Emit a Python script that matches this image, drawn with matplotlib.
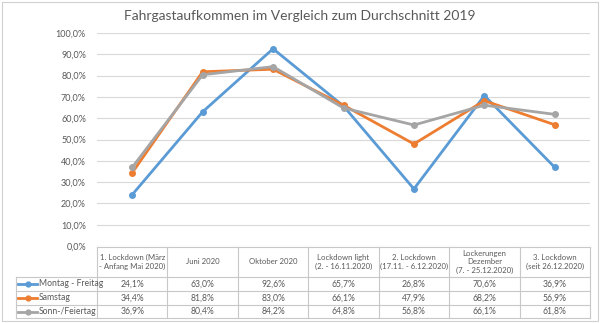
import matplotlib.pyplot as plt
from matplotlib.patches import Rectangle

plt.rcParams['font.family'] = ['Lato', 'DejaVu Sans']

categories = ['1. Lockdown (März\n- Anfang Mai 2020)', 'Juni 2020', 'Oktober 2020',
              'Lockdown light\n(2. - 16.11.2020)', '2. Lockdown\n(17.11. - 6.12.2020)',
              'Lockerungen\nDezember\n(7. - 25.12.2020)', '3. Lockdown\n(seit 26.12.2020)']
series_names = ['Montag - Freitag', 'Samstag', 'Sonn-/Feiertag']
montag_freitag = [24.1, 63.0, 92.6, 65.7, 26.8, 70.6, 36.9]
samstag = [34.4, 81.8, 83.0, 66.1, 47.9, 68.2, 56.9]
sonn_feiertag = [36.9, 80.4, 84.2, 64.8, 56.8, 66.1, 61.8]
colors = ['#5b9bd5', '#ed7d31', '#a5a5a5']
yticks = [0, 10, 20, 30, 40, 50, 60, 70, 80, 90, 100]

series = [montag_freitag, samstag, sonn_feiertag]
W, H = 600, 323
text_col = '#595959'
grid_col = '#d9d9d9'


def pct(v):
    return f'{v:.1f}%'.replace('.', ',')


fig = plt.figure(figsize=(W / 100, H / 100), dpi=100)
fig.patches.append(Rectangle((2 / W, 2 / H), 1 - 4 / W, 1 - 4 / H, transform=fig.transFigure,
                             fill=False, edgecolor='#d0d0d0', lw=0.8))

# main plot area
left, right, top, bottom = 97, 590, 33, 246
ax = fig.add_axes([left / W, 1 - bottom / H, (right - left) / W, (bottom - top) / H])
ax.set_xlim(-0.5, len(categories) - 0.5)
ax.set_ylim(0, 100)
ax.set_yticks(yticks)
ax.set_yticklabels([pct(t) for t in yticks], color=text_col, fontsize=6.5)
ax.tick_params(axis='y', length=0, pad=8)
ax.set_xticks([])
ax.grid(axis='y', color=grid_col, lw=0.8)
ax.set_axisbelow(True)
for s in ax.spines.values():
    s.set_visible(False)

x = range(len(categories))
for vals, c in zip(series, colors):
    ax.plot(x, vals, color=c, lw=2, marker='o', markersize=4, clip_on=False)

fig.text(0.5, 1 - 16 / H, 'Fahrgastaufkommen im Vergleich zum Durchschnitt 2019',
         ha='center', va='center', fontsize=10, color=text_col)

# data table below the plot
t_top, t_bot = 247, 318
row_edges = [247, 277, 291, 305, 318]
leg_left = -0.5 - (left - 16) / ((right - left) / len(categories))
tab = fig.add_axes([left / W, 1 - t_bot / H, (right - left) / W, (t_bot - t_top) / H])
tab.set_xlim(-0.5, len(categories) - 0.5)
tab.set_ylim(t_bot, t_top)
tab.axis('off')

lc = '#c8c8c8'
kw = dict(color=lc, lw=0.8, clip_on=False)
tab.plot([-0.5, len(categories) - 0.5], [row_edges[0]] * 2, **kw)
for y in row_edges[1:]:
    tab.plot([leg_left, len(categories) - 0.5], [y, y], **kw)
for i in range(len(categories) + 1):
    tab.plot([i - 0.5] * 2, [row_edges[0], row_edges[-1]], **kw)
tab.plot([leg_left] * 2, [row_edges[1], row_edges[-1]], **kw)

for i, cat in enumerate(categories):
    tab.text(i, (row_edges[0] + row_edges[1]) / 2, cat, ha='center', va='center',
             fontsize=5.6, color=text_col, linespacing=1.3)

for r, (name, vals, c) in enumerate(zip(series_names, series, colors)):
    yc = (row_edges[r + 1] + row_edges[r + 2]) / 2
    tab.plot([leg_left + 0.03, leg_left + 0.3], [yc, yc], color=c, lw=2, clip_on=False)
    tab.plot([leg_left + 0.165], [yc], color=c, marker='o', markersize=3.5, clip_on=False)
    tab.text(leg_left + 0.32, yc, name, ha='left', va='center', fontsize=6.2, color=text_col)
    for i, v in enumerate(vals):
        tab.text(i, yc, pct(v), ha='center', va='center', fontsize=6.2, color=text_col)

fig.savefig('out.png', dpi=100)
